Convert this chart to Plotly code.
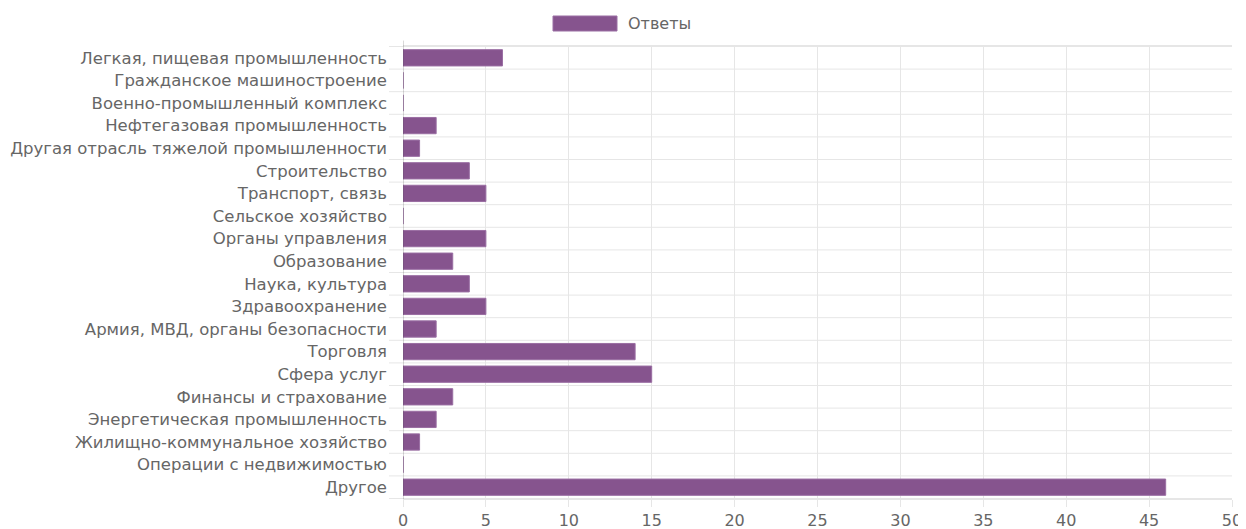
import plotly.graph_objects as go

categories = [
    "Легкая, пищевая промышленность",
    "Гражданское машиностроение",
    "Военно-промышленный комплекс",
    "Нефтегазовая промышленность",
    "Другая отрасль тяжелой промышленности",
    "Строительство",
    "Транспорт, связь",
    "Сельское хозяйство",
    "Органы управления",
    "Образование",
    "Наука, культура",
    "Здравоохранение",
    "Армия, МВД, органы безопасности",
    "Торговля",
    "Сфера услуг",
    "Финансы и страхование",
    "Энергетическая промышленность",
    "Жилищно-коммунальное хозяйство",
    "Операции с недвижимостью",
    "Другое",
]
values = [6, 0, 0, 2, 1, 4, 5, 0, 5, 3, 4, 5, 2, 14, 15, 3, 2, 1, 0, 46]
series_name = "Ответы"
x_ticks = [0, 5, 10, 15, 20, 25, 30, 35, 40, 45, 50]

bar_color = "#86548e"
text_color = "#666666"
grid_color = "#e6e6e6"
font_family = "DejaVu Sans, sans-serif"

# page body has an 8px margin; compensate so the plot lands at the reference pixels
OFF = 8
W, H = 1246 - OFF, 529 - OFF
ML, MR, MT, MB = 403 - OFF, 14, 46 - OFF, 30
PW = W - ML - MR
PH = H - MT - MB


def px_x(x):
    return (x - OFF - ML) / PW


def px_y(y):
    return (H - MB - (y - OFF)) / PH


fig = go.Figure()
fig.add_trace(go.Bar(
    y=categories,
    x=values,
    orientation="h",
    name=series_name,
    marker=dict(color=bar_color, line=dict(color="#9a6ea3", width=1)),
    width=0.72,
    showlegend=False,
))

# horizontal grid lines on category boundaries (extended left as tick marks)
grid_shapes = [
    dict(type="line", xref="paper", yref="y", x0=-14 / PW, x1=1, y0=i - 0.5, y1=i - 0.5,
         line=dict(color=grid_color, width=1), layer="below")
    for i in range(0, len(categories) + 1)
]

fig.update_layout(
    width=W,
    height=H,
    margin=dict(l=ML, r=MR, t=MT, b=MB, autoexpand=False),
    paper_bgcolor="white",
    plot_bgcolor="white",
    font=dict(family=font_family, size=16, color=text_color),
    xaxis=dict(
        range=[0, 50],
        tickvals=x_ticks,
        showgrid=True,
        gridcolor=grid_color,
        zeroline=False,
        showline=True,
        linecolor=grid_color,
        mirror=True,
        ticks="outside",
        ticklen=7,
        tickcolor=grid_color,
        tickfont=dict(size=16, color=text_color),
        automargin=False,
    ),
    yaxis=dict(
        type="category",
        autorange="reversed",
        tickson="boundaries",
        showgrid=False,
        zeroline=False,
        ticks="",
        showline=False,
        ticklabelstandoff=15,
        tickfont=dict(size=16.5, color=text_color),
        automargin=False,
    ),
    shapes=grid_shapes + [
        dict(type="line", xref="x", yref="paper", x0=0, x1=0, y0=0, y1=1.012,
             line=dict(color="rgba(0,0,0,0.3)", width=1)),
        dict(type="rect", xref="paper", yref="paper",
             x0=px_x(553), x1=px_x(617),
             y0=px_y(31), y1=px_y(16),
             fillcolor=bar_color, line=dict(color="#9a6ea3", width=1)),
    ],
    annotations=[
        dict(text=series_name, xref="paper", yref="paper",
             x=px_x(626), y=px_y(23.5),
             xanchor="left", yanchor="middle", showarrow=False,
             font=dict(size=16, color=text_color)),
    ],
)

fig.write_html("out.html")
